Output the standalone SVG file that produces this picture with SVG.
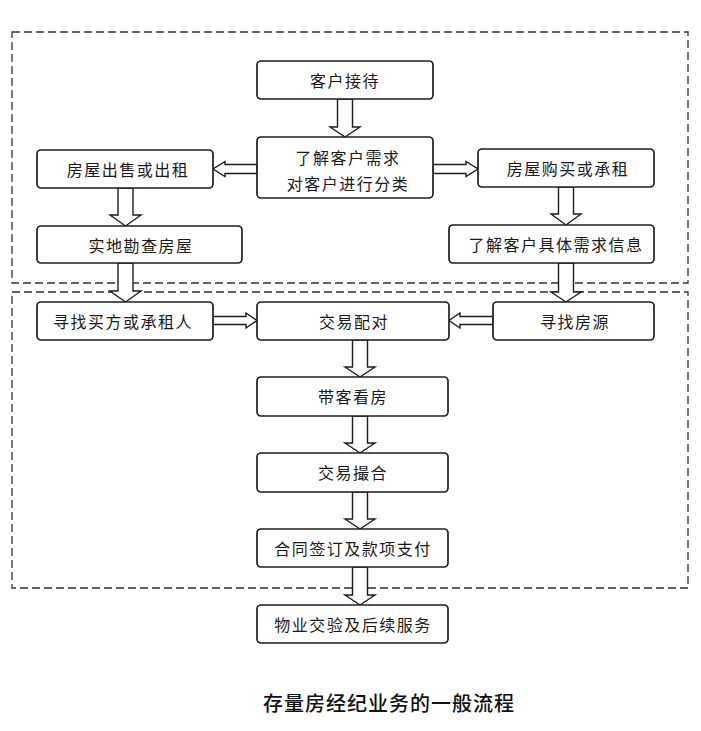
<svg xmlns="http://www.w3.org/2000/svg" width="701" height="731" viewBox="0 0 701 731">
<style>
.bg{fill:#ffffff}
.box{fill:#ffffff;stroke:#1e1e1e;stroke-width:1.7}
.dash{fill:none;stroke:#333333;stroke-width:1.3;stroke-dasharray:8 4}
.arr{fill:#ffffff;stroke:#1e1e1e;stroke-width:1.4;stroke-linejoin:miter}
.t{font-family:"Noto Sans CJK SC","Noto Sans CJK TC",sans-serif;font-size:16px;letter-spacing:1.5px;fill:#1a1a1a;text-anchor:middle;dominant-baseline:central}
.title{font-family:"Noto Sans CJK SC","Noto Sans CJK TC",sans-serif;font-size:20px;font-weight:500;letter-spacing:1px;fill:#111111;text-anchor:middle;dominant-baseline:central}
</style>
<rect class="bg" x="0" y="0" width="701" height="731"/>
<g id="frames">
<rect class="dash" x="12" y="32" width="676" height="251"/>
<rect class="dash" x="12" y="292" width="676" height="296"/>
</g>
<g id="connectors">
<path class="arr" d="M337.5,99 V127 H330 L345,137 L360,127 H352.5 V99 Z"/>
<path class="arr" d="M118,188 V215 H110 L125.5,226 L141,215 H133 V188 Z"/>
<path class="arr" d="M118,263 V291 H110 L125.5,302 L141,291 H133 V263 Z"/>
<path class="arr" d="M558.5,187 V214 H551 L566,225 L581,214 H573.5 V187 Z"/>
<path class="arr" d="M558.5,263 V292 H551 L566,302 L581,292 H573.5 V263 Z"/>
<path class="arr" d="M352.5,340 V367 H345 L360,377 L375,367 H367.5 V340 Z"/>
<path class="arr" d="M352.5,416 V443 H345 L360,453 L375,443 H367.5 V416 Z"/>
<path class="arr" d="M352.5,492 V519 H345 L360,529 L375,519 H367.5 V492 Z"/>
<path class="arr" d="M352.5,567 V595 H345 L360,605 L375,595 H367.5 V567 Z"/>
<path class="arr" d="M257,164.5 H225 V161.5 L213,169 L225,176.5 V173.5 H257 Z"/>
<path class="arr" d="M433,164.5 H466 V161.5 L478,169 L466,176.5 V173.5 H433 Z"/>
<path class="arr" d="M213,316.5 H246 V313 L257,320.5 L246,328 V324.5 H213 Z"/>
<path class="arr" d="M493,316.5 H460 V313 L449,320.5 L460,328 V324.5 H493 Z"/>
</g>
<g id="n1"><rect class="box" x="257" y="61" width="176" height="38" rx="4"/><text class="t" x="345" y="80">客户接待</text></g>
<g id="n2"><rect class="box" x="257" y="137" width="176" height="61" rx="4"/><text class="t" x="348" y="157">了解客户需求</text><text class="t" x="348" y="183">对客户进行分类</text></g>
<g id="n3"><rect class="box" x="37" y="150" width="176" height="38" rx="4"/><text class="t" x="128" y="169">房屋出售或出租</text></g>
<g id="n4"><rect class="box" x="478" y="149" width="176" height="38" rx="4"/><text class="t" x="568" y="168">房屋购买或承租</text></g>
<g id="n5"><rect class="box" x="37" y="226" width="205" height="37" rx="4"/><text class="t" x="141" y="245">实地勘查房屋</text></g>
<g id="n6"><rect class="box" x="449" y="225" width="205" height="38" rx="4"/><text class="t" x="556" y="244">了解客户具体需求信息</text></g>
<g id="n7"><rect class="box" x="37" y="302" width="176" height="38" rx="4"/><text class="t" x="123" y="321">寻找买方或承租人</text></g>
<g id="n8"><rect class="box" x="257" y="302" width="192" height="38" rx="4"/><text class="t" x="354" y="321">交易配对</text></g>
<g id="n9"><rect class="box" x="493" y="302" width="161" height="38" rx="4"/><text class="t" x="575" y="321">寻找房源</text></g>
<g id="n10"><rect class="box" x="257" y="377" width="191" height="39" rx="4"/><text class="t" x="353" y="396">带客看房</text></g>
<g id="n11"><rect class="box" x="257" y="453" width="191" height="39" rx="4"/><text class="t" x="353" y="472">交易撮合</text></g>
<g id="n12"><rect class="box" x="257" y="529" width="191" height="38" rx="4"/><text class="t" x="353" y="548">合同签订及款项支付</text></g>
<g id="n13"><rect class="box" x="257" y="605" width="191" height="38" rx="4"/><text class="t" x="353" y="624">物业交验及后续服务</text></g>
<text class="title" x="389" y="702">存量房经纪业务的一般流程</text>
</svg>
